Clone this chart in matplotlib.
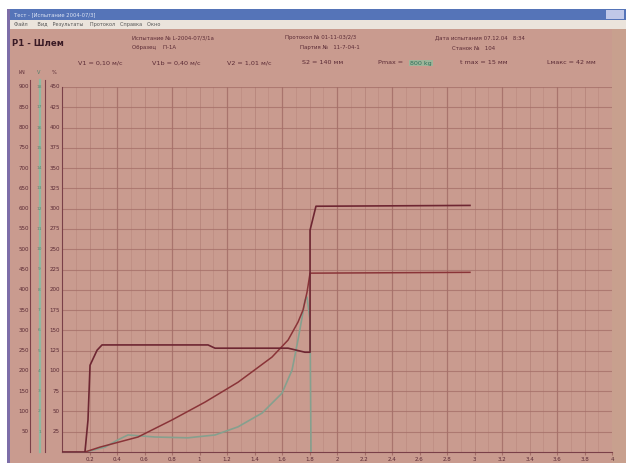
import matplotlib
matplotlib.use("Agg")
import matplotlib.pyplot as plt
from matplotlib.patches import Rectangle
import numpy as np

# ---------------------------------------------------------------------
# Данные (читаются с картинки)
# ---------------------------------------------------------------------
# нагрузка, кН
load_x = [0, 0.167, 0.189, 0.204, 0.255, 0.291, 1.062, 1.113, 1.644, 1.767,
          1.804, 1.804, 1.847, 2.967]
load_y = [0, 0, 79, 214, 251, 264, 264, 256, 256, 246, 246, 547, 606, 608]

# вторая кривая (перемещение)
disp_x = [0.167, 0.276, 0.553, 0.80, 1.04, 1.28, 1.527, 1.644, 1.716, 1.753,
          1.782, 1.804, 2.967]
disp_y = [0, 12, 37, 79, 123, 172, 234, 276, 320, 350, 394, 441, 443]

# скорость (зеленая)
vel_x = [0.167, 0.313, 0.407, 0.48, 0.676, 0.916, 1.113, 1.28, 1.455, 1.60,
         1.673, 1.716, 1.745, 1.767, 1.782, 1.804, 1.811]
vel_y = [0, 12, 30, 42, 37, 35, 42, 62, 96, 145, 202, 276, 330, 374, 382,
         325, 0]

x_ticks = [0.2, 0.4, 0.6, 0.8, 1, 1.2, 1.4, 1.6, 1.8, 2, 2.2, 2.4, 2.6, 2.8,
           3, 3.2, 3.4, 3.6, 3.8, 4]
left_labels = [50 * k for k in range(1, 19)]
mid_labels = [k for k in range(1, 19)]
right_labels = [25 * k for k in range(1, 19)]

W, H = 626, 463
BG = "#c99b8f"
GRID = "#a46e68"
TXT = "#5a2a35"


def fx(x):
    return x / W


def fy(y):
    return 1 - y / H


def rect(fig, x0, y0, x1, y1, color, z=-5):
    fig.patches.append(Rectangle((fx(x0), fy(y1)), fx(x1 - x0), (y1 - y0) / H,
                                 transform=fig.transFigure, color=color,
                                 zorder=z, lw=0))


def txt(fig, x, y, s, size=4.2, color=TXT, **kw):
    fig.text(fx(x), fy(y), s, fontsize=size, color=color, va="center", **kw)


fig = plt.figure(figsize=(W / 100, H / 100), dpi=100)
fig.patch.set_facecolor("white")

# окно
rect(fig, 7, 9, 626, 463, BG)
rect(fig, 7, 9, 626, 20, "#5574b8")
rect(fig, 7, 20, 626, 29, "#ebe4dc")
rect(fig, 7, 9, 10, 463, "#7d6ea8")
rect(fig, 612, 29, 626, 463, "#c8a08e")
rect(fig, 606, 10, 624, 19, "#c0c8e8")

txt(fig, 14, 14.5, "Тест - [Испытание 2004-07/3]", size=3.8, color="#dde4f4")
txt(fig, 14, 24.5, "Файл      Вид   Результаты    Протокол   Справка   Окно",
    size=3.6, color="#555555")

txt(fig, 12, 44, "P1 - Шлем", size=6.2, fontweight="bold", color="#3a1a25")
txt(fig, 132, 38, "Испытание № L-2004-07/3/1a", size=3.9)
txt(fig, 132, 48, "Образец    П-1А", size=3.9)
txt(fig, 285, 38, "Протокол № 01-11-03/2/3", size=3.9)
txt(fig, 300, 48, "Партия №   11-7-04-1", size=3.9)
txt(fig, 435, 38, "Дата испытания 07.12.04   8:34", size=3.9)
txt(fig, 452, 48, "Станок №   104", size=3.9)

txt(fig, 78, 63, "V1 = 0,10 м/с", size=4.6)
txt(fig, 152, 63, "V1b = 0,40 м/с", size=4.6)
txt(fig, 227, 63, "V2 = 1,01 м/с", size=4.6)
txt(fig, 302, 63, "S2 = 140 мм", size=4.6)
txt(fig, 378, 63, "Pmax =", size=4.6)
fig.text(fx(410), fy(63), "800 kg", fontsize=4.6, color="#2f6f5a", va="center",
         bbox=dict(boxstyle="square,pad=0.15", fc="#9fb59a", ec="none"))
txt(fig, 460, 63, "t max = 15 мм", size=4.6)
txt(fig, 547, 63, "Lмакс = 42 мм", size=4.6)

# заголовки колонок
txt(fig, 22, 72, "kN", size=3.6, ha="center")
txt(fig, 39, 72, "V", size=3.6, ha="center", color="#4f7f6a")
txt(fig, 54, 72, "%", size=3.6, ha="center")

# ---------------------------------------------------------------------
# График
# ---------------------------------------------------------------------
ax = fig.add_axes([fx(62), fy(452), fx(612 - 62), (452 - 87) / H])
ax.set_zorder(2)
ax.set_facecolor(BG)
ax.set_xlim(0, 4)
ax.set_ylim(0, 900)

for xv in np.arange(0.1, 4.0, 0.1):
    k = int(round(xv * 10))
    if k % 4 == 0:
        ax.axvline(xv, color=GRID, lw=0.9, alpha=0.85, zorder=1)
    elif k % 2 == 0:
        ax.axvline(xv, color=GRID, lw=0.6, alpha=0.5, zorder=1)
    else:
        ax.axvline(xv, color=GRID, lw=0.5, alpha=0.35, zorder=1)
for yv in left_labels:
    ax.axhline(yv, color=GRID, lw=0.8, alpha=0.75, zorder=1)

ax.plot(vel_x, vel_y, color="#85a08e", lw=1.2, zorder=3)
ax.plot(disp_x, disp_y, color="#8a3438", lw=1.1, zorder=4)
ax.plot(load_x, load_y, color="#6e2632", lw=1.2, zorder=5)

ax.set_xticks(x_ticks)
ax.set_xticklabels([f"{v:g}" for v in x_ticks], fontsize=4, color=TXT)
ax.tick_params(axis="x", length=2, pad=1.5, color=GRID)
ax.set_yticks([])
for s in ["top", "right"]:
    ax.spines[s].set_visible(False)
ax.spines["left"].set_color("#7a4048")
ax.spines["bottom"].set_color("#7a4048")

# шкалы слева
tr = ax.get_yaxis_transform()
for v, m, r in zip(left_labels, mid_labels, right_labels):
    ax.text(-0.06, v, f"{v}", transform=tr, fontsize=4, color=TXT,
            ha="right", va="center", clip_on=False)
    ax.text(-0.041, v, f"{m}", transform=tr, fontsize=3.2, color="#5d8a74",
            ha="center", va="center", clip_on=False)
    ax.text(-0.004, v, f"{r}", transform=tr, fontsize=4, color=TXT,
            ha="right", va="center", clip_on=False)

# вертикальные линии колонок
for xp, c, lw in [(30, "#7a4048", 0.8), (40, "#8fb8a0", 1.6), (45, "#7a4048", 0.8)]:
    fig.add_artist(plt.Line2D([fx(xp), fx(xp)], [fy(80), fy(452)],
                              color=c, lw=lw, transform=fig.transFigure))

fig.savefig("out.png", dpi=100)
